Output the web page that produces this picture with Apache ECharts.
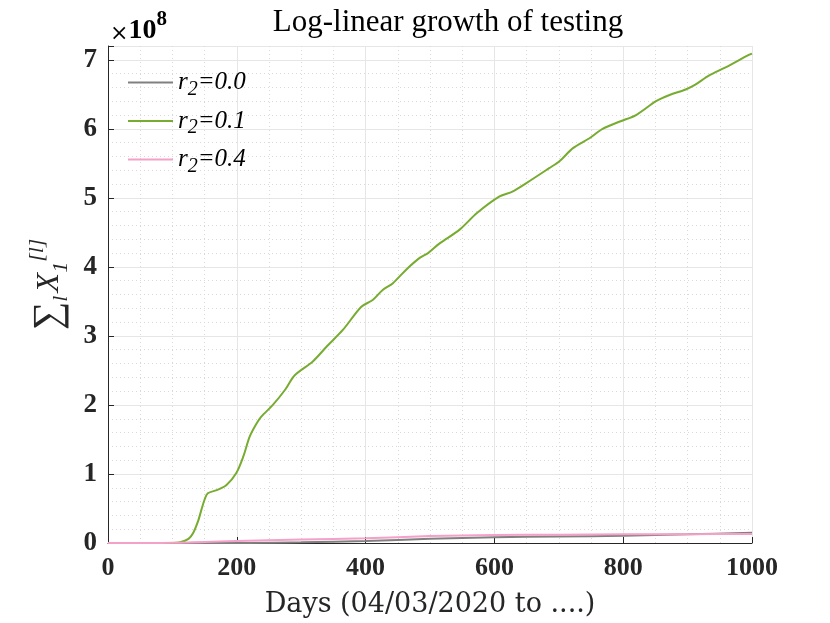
<!DOCTYPE html>
<html>
<head>
<meta charset="utf-8">
<script src="https://cdn.jsdelivr.net/npm/echarts@6/dist/echarts.min.js"></script>
<style>
  html, body { margin: 0; padding: 0; background: #fff; }
  #main { width: 830px; height: 623px; }
</style>
</head>
<body>
<div id="main"></div>
<script>
const chart = echarts.init(document.getElementById('main'))

// values in units of 1e8
var seriesNames = ['r2=0.0', 'r2=0.1', 'r2=0.4']
var xTicks = [0, 200, 400, 600, 800, 1000]

var daysR0 = [0, 200, 300, 400, 500, 600, 700, 800, 900, 1000]
var valsR0 = [0, 0, 0.01, 0.03, 0.06, 0.085, 0.095, 0.105, 0.125, 0.15]

var daysR1 = [0, 100, 112, 125, 132, 140, 145, 150, 155, 170, 184, 199, 210, 220, 230, 238, 256, 275, 290, 318, 340, 365,
    393, 411, 427, 442, 463, 484, 497, 515, 546, 573, 608, 628, 649, 685, 701, 722, 747, 768, 796, 820, 851, 872, 897,
    912, 933, 959, 995, 1000]
var valsR1 = [0, 0, 0.01, 0.06, 0.14, 0.32, 0.48, 0.63, 0.72, 0.77, 0.84, 1.01, 1.25, 1.54, 1.72, 1.83, 2.0, 2.22, 2.43, 2.63, 2.85, 3.09,
    3.42, 3.52, 3.67, 3.76, 3.96, 4.13, 4.20, 4.34, 4.54, 4.78, 5.02, 5.09, 5.21, 5.43, 5.53, 5.72, 5.86, 6.0, 6.11, 6.20, 6.40, 6.49, 6.57,
    6.64, 6.77, 6.89, 7.07, 7.09]

var daysR4 = [0, 100, 200, 300, 400, 500, 600, 700, 800, 900, 1000]
var valsR4 = [0, 0.005, 0.03, 0.05, 0.068, 0.1, 0.115, 0.12, 0.126, 0.128, 0.13]

var colors = ['#808080', '#77ac30', '#f4a0c8']

pairs = function (xs, ys) {
    var res = []
    for (var i = 0; i < xs.length; i++) {
        res.push([xs[i], ys[i]])
    }
    return res
}

var serif = 'Liberation Serif'

chart.setOption({
    animation: false,
    title: {
        text: 'Log-linear growth of testing',
        left: 443,
        textAlign: 'center',
        top: 2,
        textStyle: { fontFamily: serif, fontWeight: 'normal', fontSize: 31, color: '#000' }
    },
    graphic: [{
        type: 'text',
        left: 110,
        top: 9,
        style: {
            text: '{a|×}{b|10}{c|8}',
            rich: {
                a: { fontFamily: 'DejaVu Serif', fontSize: 22, color: '#262626', verticalAlign: 'bottom', lineHeight: 36 },
                b: { fontFamily: serif, fontSize: 28, fontWeight: 'bold', color: '#262626', verticalAlign: 'bottom', lineHeight: 36 },
                c: { fontFamily: serif, fontSize: 21, fontWeight: 'bold', color: '#262626', verticalAlign: 'top', lineHeight: 36 }
            }
        }
    }],
    legend: {
        orient: 'vertical',
        left: 123,
        top: 65,
        icon: 'rect',
        itemWidth: 45,
        itemHeight: 2,
        itemGap: 9,
        data: seriesNames,
        formatter: function (name) {
            return '{r|r}{s|2}{r|' + name.slice(2) + '}'
        },
        textStyle: {
            rich: {
                r: { fontFamily: serif, fontStyle: 'italic', fontSize: 25, color: '#000', lineHeight: 34, verticalAlign: 'middle' },
                s: { fontFamily: serif, fontStyle: 'italic', fontSize: 20, color: '#000', lineHeight: 34, verticalAlign: 'bottom' }
            }
        }
    },
    grid: { left: 108, right: 78, top: 46, bottom: 80 },
    xAxis: {
        type: 'value',
        min: 0,
        max: 1000,
        interval: 200,
        name: 'Days (04/03/2020 to ....)',
        nameLocation: 'middle',
        nameGap: 48,
        nameTextStyle: { fontFamily: 'DejaVu Serif', fontSize: 27, color: '#262626' },
        axisLine: { lineStyle: { color: '#262626', width: 1 } },
        axisTick: { inside: true, length: 6, lineStyle: { color: '#262626' } },
        axisLabel: {
            margin: 12,
            fontFamily: serif, fontWeight: 'bold', fontSize: 26, color: '#262626',
            formatter: function (v) { return xTicks.indexOf(v) >= 0 ? String(v) : '' }
        },
        splitLine: { show: true, lineStyle: { color: '#e6e6e6', width: 1 } },
        minorTick: { show: false, splitNumber: 4 },
        minorSplitLine: { show: true, lineStyle: { color: '#d9d9d9', type: [1, 3], width: 1 } }
    },
    yAxis: {
        type: 'value',
        min: 0,
        max: 7.2,
        interval: 1,
        name: '{s|∑}{sub|l} {x|X}{sub|1}{sup|[l]}',
        nameLocation: 'middle',
        nameRotate: 90,
        nameGap: 30,
        nameTextStyle: {
            padding: [0, 0, 0, 20],
            rich: {
                s: { fontFamily: serif, fontSize: 40, color: '#262626', verticalAlign: 'middle', lineHeight: 46 },
                x: { fontFamily: serif, fontStyle: 'italic', fontSize: 32, color: '#262626', verticalAlign: 'middle', lineHeight: 46 },
                sub: { fontFamily: serif, fontStyle: 'italic', fontSize: 22, color: '#262626', verticalAlign: 'bottom', lineHeight: 46 },
                sup: { fontFamily: serif, fontStyle: 'italic', fontSize: 22, color: '#262626', verticalAlign: 'top', lineHeight: 46 }
            }
        },
        axisLine: { show: true, lineStyle: { color: '#262626', width: 1 } },
        axisTick: { show: true, inside: true, length: 6, lineStyle: { color: '#262626' } },
        axisLabel: {
            margin: 11,
            fontFamily: serif, fontWeight: 'bold', fontSize: 27, color: '#262626',
            formatter: function (v) { return Math.abs(v - Math.round(v)) < 1e-9 ? String(Math.round(v)) : '' }
        },
        splitLine: { show: true, lineStyle: { color: '#e6e6e6', width: 1 } },
        minorTick: { show: false, splitNumber: 5 },
        minorSplitLine: { show: true, lineStyle: { color: '#d9d9d9', type: [1, 3], width: 1 } }
    },
    series: [
        {
            name: seriesNames[0],
            type: 'line',
            symbol: 'none',
            smooth: 0.3,
            color: colors[0],
            lineStyle: { width: 2 },
            data: pairs(daysR0, valsR0)
        },
        {
            name: seriesNames[1],
            type: 'line',
            symbol: 'none',
            smooth: 0.3,
            color: colors[1],
            lineStyle: { width: 2 },
            data: pairs(daysR1, valsR1)
        },
        {
            name: seriesNames[2],
            type: 'line',
            symbol: 'none',
            smooth: 0.3,
            color: colors[2],
            lineStyle: { width: 2 },
            data: pairs(daysR4, valsR4)
        }
    ]
})
</script>
</body>
</html>
